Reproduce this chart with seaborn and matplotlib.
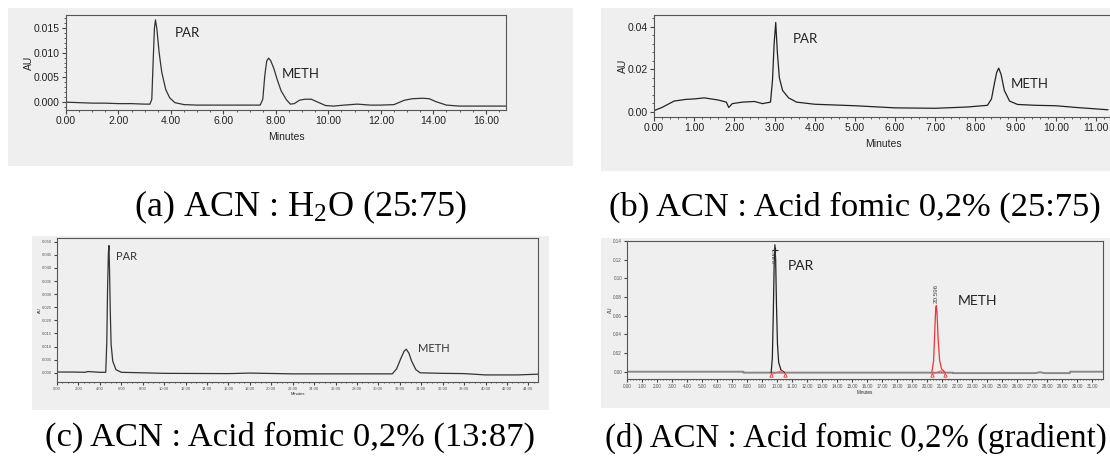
import matplotlib
matplotlib.use('Agg')
import matplotlib.pyplot as plt
import seaborn as sns
import numpy as np
from matplotlib.patches import Rectangle
from matplotlib.ticker import MultipleLocator, FormatStrFormatter

# (a) ACN : H2O (25:75)
a_time = [0.0, 0.5, 1.0, 1.5, 2.0, 2.5, 3.0, 3.2, 3.27, 3.32, 3.37, 3.41, 3.46, 3.55, 3.65, 3.8, 3.95,
          4.15, 4.5, 5.0, 6.0, 7.0, 7.4, 7.5, 7.58, 7.65, 7.72, 7.8, 7.92, 8.05, 8.2, 8.4, 8.55, 8.7,
          8.9, 9.1, 9.35, 9.6, 9.9, 10.2, 10.6, 11.1, 11.6, 12.0, 12.5, 12.9, 13.2, 13.6, 13.85, 14.1,
          14.5, 15.0, 16.0, 16.8]
a_au = [-0.0001, -0.0002, -0.0003, -0.0003, -0.0004, -0.0004, -0.0005, -0.0005, 0.0005, 0.0080, 0.0150,
        0.0167, 0.0150, 0.0100, 0.0060, 0.0025, 0.0008, -0.0002, -0.0006, -0.0007, -0.0007, -0.0007,
        -0.0007, 0.0005, 0.0055, 0.0083, 0.0089, 0.0084, 0.0068, 0.0045, 0.0022, 0.0004, -0.0005,
        -0.0004, 0.0003, 0.0005, 0.0005, -0.0001, -0.0008, -0.0009, -0.0007, -0.0005, -0.0007, -0.0007,
        -0.0006, 0.0003, 0.0006, 0.0007, 0.0006, 0.0000, -0.0007, -0.0009, -0.0009, -0.0009]

# (b) ACN : Acid fomic 0,2% (25:75)
b_time = [0.0, 0.2, 0.5, 0.8, 1.0, 1.25, 1.6, 1.8, 1.86, 1.95, 2.2, 2.5, 2.7, 2.9, 2.95, 2.99, 3.03,
          3.07, 3.12, 3.2, 3.35, 3.55, 4.0, 5.0, 6.0, 7.0, 7.8, 8.3, 8.4, 8.47, 8.53, 8.58, 8.64, 8.72,
          8.85, 9.05, 9.5, 10.0, 10.5, 11.3]
b_au = [0.0005, 0.002, 0.005, 0.0058, 0.006, 0.0065, 0.0055, 0.0045, 0.002, 0.0038, 0.0045, 0.0048,
        0.0038, 0.0045, 0.015, 0.032, 0.042, 0.028, 0.016, 0.010, 0.0065, 0.0045, 0.0035, 0.0028,
        0.0018, 0.0016, 0.0022, 0.0030, 0.0060, 0.0130, 0.0185, 0.0205, 0.0175, 0.0100, 0.0050,
        0.0034, 0.0030, 0.0028, 0.0020, 0.0009]

# (c) ACN : Acid fomic 0,2% (13:87)
c_time = [0.0, 1.5, 2.6, 2.9, 3.2, 4.0, 4.55, 4.65, 4.72, 4.8, 4.85, 4.9, 4.97, 5.05, 5.2, 5.5, 6.0,
          10.0, 16.0, 18.0, 22.0, 30.0, 31.3, 31.7, 32.1, 32.4, 32.6, 32.85, 33.1, 33.5, 33.9, 36.0,
          38.0, 40.0, 43.0, 45.0]
c_au = [0.0003, 0.0003, 0.0002, 0.0005, 0.0004, 0.0002, 0.0002, 0.012, 0.032, 0.046, 0.0485, 0.040,
        0.024, 0.011, 0.0045, 0.0012, 0.0002, -0.0002, -0.0003, -0.0001, -0.0004, -0.0004, -0.0004,
        0.0015, 0.0055, 0.0082, 0.0090, 0.0075, 0.0045, 0.0012, 0.0000, -0.0002, -0.0003, -0.0008,
        -0.0008, -0.0005]

# (d) ACN : Acid fomic 0,2% (gradient)
d_base_time = [0.0, 7.75, 7.76, 9.6, 10.5, 21.7, 21.71, 27.2, 27.5, 27.8, 28.3, 29.5, 29.51, 32.0]
d_base_au = [0.0, 0.0, -0.001, -0.001, -0.001, -0.001, -0.0015, -0.0015, -0.0005, -0.0015, -0.0015,
             -0.0015, 0.0, 0.0]
d_par_time = [9.6, 9.68, 9.74, 9.8, 9.85, 9.9, 9.95, 10.02, 10.1, 10.25, 10.5]
d_par_au = [-0.001, 0.015, 0.06, 0.115, 0.136, 0.120, 0.075, 0.030, 0.010, 0.002, -0.001]
d_meth_time = [20.3, 20.42, 20.5, 20.56, 20.6, 20.65, 20.72, 20.82, 20.95, 21.2]
d_meth_au = [-0.001, 0.012, 0.045, 0.068, 0.0707, 0.062, 0.035, 0.012, 0.003, -0.001]
d_int_time = [9.6, 10.3, 10.55, 20.3, 20.9, 21.2]
d_int_au = [-0.003, 0.001, -0.003, -0.003, 0.001, -0.003]
d_rt_labels = ['9.853', '20.596']

captions = ['(a) ACN : H$_2$O (25:75)', '(b) ACN : Acid fomic 0,2% (25:75)',
            '(c) ACN : Acid fomic 0,2% (13:87)', '(d) ACN : Acid fomic 0,2% (gradient)']

sns.set_style('ticks')
plt.rcParams['font.family'] = ['Liberation Sans', 'DejaVu Sans']
plt.rcParams['mathtext.fontset'] = 'custom'
plt.rcParams['mathtext.rm'] = 'Liberation Serif'
plt.rcParams['mathtext.default'] = 'regular'

W, H = 1110, 462
fig = plt.figure(figsize=(W / 100, H / 100), dpi=100)
fig.patch.set_facecolor('white')

BG = '#efefef'


def panel_bg(x0, y0, x1, y1):
    fig.add_artist(Rectangle((x0 / W, 1 - y1 / H), (x1 - x0) / W, (y1 - y0) / H,
                             transform=fig.transFigure, facecolor=BG, edgecolor='none', zorder=0))


def make_ax(l, t, r, b):
    ax = fig.add_axes([l / W, 1 - b / H, (r - l) / W, (b - t) / H])
    ax.set_facecolor(BG)
    for s in ax.spines.values():
        s.set_color('#555555')
        s.set_linewidth(0.8)
    ax.tick_params(which='both', direction='out', color='#444444', pad=1.5)
    ax.tick_params(which='major', length=3)
    ax.tick_params(which='minor', length=1.5)
    return ax


panel_bg(8, 8, 573, 166)
panel_bg(601, 8, 1110, 171)
panel_bg(32, 236, 549, 410)
panel_bg(601, 238, 1110, 408)

lab_font = ['Lato', 'DejaVu Sans']

# (a)
ax = make_ax(66, 15, 506, 110)
sns.lineplot(x=a_time, y=a_au, ax=ax, color='#333333', lw=0.9, estimator=None, sort=False)
ax.set_xlim(0, 16.77)
ax.set_ylim(-0.0017, 0.0177)
ax.xaxis.set_major_locator(MultipleLocator(2))
ax.xaxis.set_minor_locator(MultipleLocator(0.5))
ax.yaxis.set_major_locator(MultipleLocator(0.005))
ax.yaxis.set_minor_locator(MultipleLocator(0.001))
ax.xaxis.set_major_formatter(FormatStrFormatter('%.2f'))
ax.yaxis.set_major_formatter(FormatStrFormatter('%.3f'))
ax.tick_params(labelsize=7.5, labelcolor='#222222')
ax.set_xlabel('Minutes', fontsize=7.5, labelpad=4)
ax.set_ylabel('AU', fontsize=7.5, labelpad=0)
ax.text(4.15, 0.0133, 'PAR', fontsize=9.5, family=lab_font, color='#222222')
ax.text(8.23, 0.0049, 'METH', fontsize=9.5, family=lab_font, color='#222222')

# (b)
ax = make_ax(654, 15, 1112, 117)
sns.lineplot(x=b_time, y=b_au, ax=ax, color='#222222', lw=0.9, estimator=None, sort=False)
ax.set_xlim(0, 11.4)
ax.set_ylim(-0.0025, 0.0455)
ax.xaxis.set_major_locator(MultipleLocator(1))
ax.xaxis.set_minor_locator(MultipleLocator(0.2))
ax.yaxis.set_major_locator(MultipleLocator(0.02))
ax.yaxis.set_minor_locator(MultipleLocator(0.004))
ax.xaxis.set_major_formatter(FormatStrFormatter('%.2f'))
ax.yaxis.set_major_formatter(FormatStrFormatter('%.2f'))
ax.tick_params(labelsize=7.5, labelcolor='#222222')
ax.set_xlabel('Minutes', fontsize=7.5, labelpad=4)
ax.set_ylabel('AU', fontsize=7.5, labelpad=0)
ax.text(3.45, 0.0325, 'PAR', fontsize=9.5, family=lab_font, color='#222222')
ax.text(8.87, 0.0110, 'METH', fontsize=9.5, family=lab_font, color='#222222')

# (c)
ax = make_ax(57, 238, 538, 382)
sns.lineplot(x=c_time, y=c_au, ax=ax, color='#333333', lw=0.9, estimator=None, sort=False)
ax.set_xlim(0, 44.9)
ax.set_ylim(-0.0035, 0.0514)
ax.xaxis.set_major_locator(MultipleLocator(2))
ax.xaxis.set_minor_locator(MultipleLocator(0.5))
ax.yaxis.set_major_locator(MultipleLocator(0.005))
ax.xaxis.set_major_formatter(FormatStrFormatter('%.2f'))
ax.yaxis.set_major_formatter(FormatStrFormatter('%.3f'))
ax.tick_params(labelsize=3, labelcolor='#555555')
ax.tick_params(which='major', length=2)
ax.tick_params(which='minor', length=1)
ax.set_xlabel('Minutes', fontsize=3, labelpad=1)
ax.set_ylabel('AU', fontsize=3, labelpad=0)
ax.text(5.5, 0.0430, 'PAR', fontsize=8, family=lab_font, color='#333333')
ax.text(33.7, 0.0079, 'METH', fontsize=8, family=lab_font, color='#333333')

# (d)
ax = make_ax(627, 241, 1103, 379)
sns.lineplot(x=d_base_time, y=d_base_au, ax=ax, color='#888888', lw=1.4, estimator=None, sort=False)
sns.lineplot(x=d_par_time, y=d_par_au, ax=ax, color='#222222', lw=0.9, estimator=None, sort=False)
sns.lineplot(x=d_meth_time, y=d_meth_au, ax=ax, color='#ee3333', lw=0.9, estimator=None, sort=False)
for i in range(0, len(d_int_time), 3):
    seg_t = d_int_time[i:i + 3]
    seg_a = d_int_au[i:i + 3]
    sns.lineplot(x=seg_t, y=seg_a, ax=ax, color='#ff5555', lw=0.7, estimator=None, sort=False)
    ax.plot([seg_t[0], seg_t[-1]], [seg_a[0], seg_a[-1]], ls='none', marker='^', ms=2.5,
            mfc='none', mec='#ff3333', mew=0.6)
ax.plot([d_par_time[4]], [d_par_au[4] - 0.006], marker='+', ms=4, color='#222222', mew=0.8)
ax.text(d_par_time[4], d_par_au[4] - 0.003, d_rt_labels[0], rotation=90, fontsize=4.5,
        ha='center', va='top', color='#444444')
ax.text(d_meth_time[4], d_meth_au[4] + 0.003, d_rt_labels[1], rotation=90, fontsize=4.5,
        ha='center', va='bottom', color='#444444')
ax.set_xlim(0, 31.7)
ax.set_ylim(-0.0078, 0.14)
ax.xaxis.set_major_locator(MultipleLocator(1))
ax.xaxis.set_minor_locator(MultipleLocator(0.2))
ax.yaxis.set_major_locator(MultipleLocator(0.02))
ax.xaxis.set_major_formatter(FormatStrFormatter('%.2f'))
ax.yaxis.set_major_formatter(FormatStrFormatter('%.2f'))
ax.tick_params(labelsize=3.3, labelcolor='#555555')
ax.tick_params(which='major', length=2)
ax.tick_params(which='minor', length=1)
ax.set_xlabel('Minutes', fontsize=3.3, labelpad=1)
ax.set_ylabel('AU', fontsize=3.3, labelpad=0)
ax.text(10.7, 0.109, 'PAR', fontsize=10, family=lab_font, color='#222222')
ax.text(22.0, 0.0714, 'METH', fontsize=10, family=lab_font, color='#222222')

# captions
cap_pos = [(301, 207), (855, 207), (290, 437), (856, 438)]
cap_size = [26, 24.8, 24.8, 23.7]
for txt, (cx, cy), fs in zip(captions, cap_pos, cap_size):
    fig.text(cx / W, 1 - cy / H, txt, fontsize=fs, family=['Liberation Serif', 'DejaVu Serif'],
             ha='center', va='center', color='black')

fig.savefig('out.png', dpi=100)
